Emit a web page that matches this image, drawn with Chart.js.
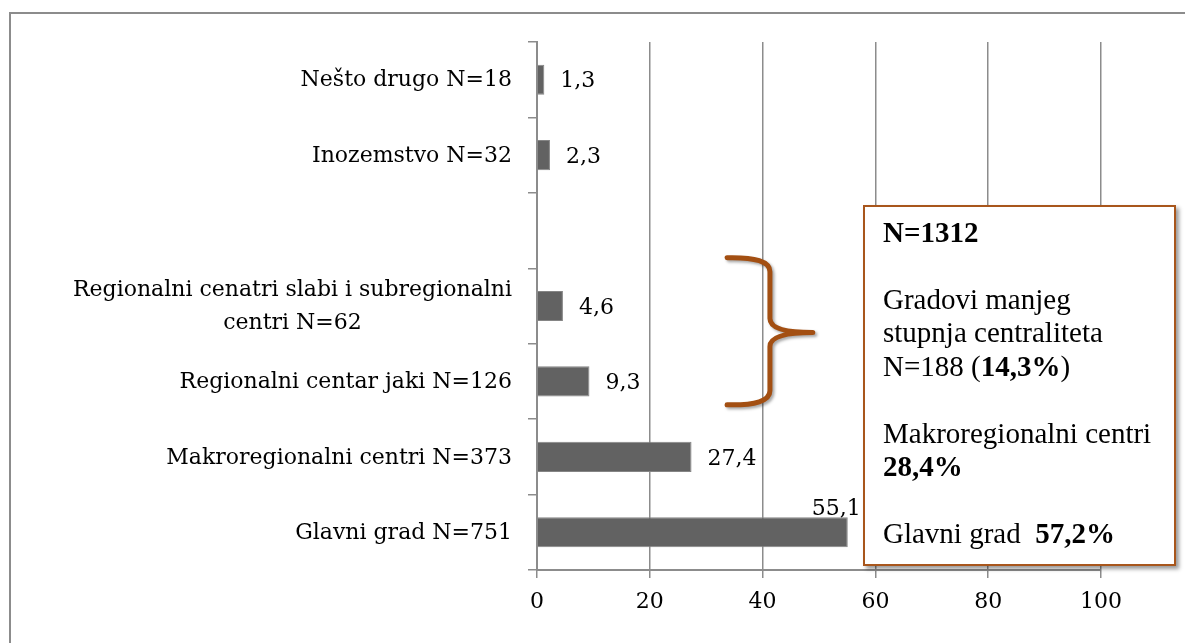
<!DOCTYPE html>
<html><head><meta charset="utf-8">
<script src="https://cdn.jsdelivr.net/npm/chart.js@4"></script>
<style>
html,body{margin:0;padding:0;background:#fff;}
#wrap{position:relative;width:1185px;height:643px;overflow:hidden;background:#fff;}
#frame{position:absolute;left:9px;top:12px;width:3000px;height:3000px;border-top:2px solid #8c8c8c;border-left:2px solid #8c8c8c;}
#c{position:absolute;left:0;top:0;}
#note{position:absolute;left:863px;top:205px;width:313px;height:361px;box-sizing:border-box;
  border:2px solid #a8561c;background:#fff;box-shadow:3px 3px 4px rgba(0,0,0,0.4);
  font-family:"Liberation Serif","Times New Roman",serif;font-size:29px;line-height:33.5px;color:#000;
  padding:8.5px 0 0 18px;white-space:pre;}
#note b{font-weight:bold;}
</style></head>
<body>
<div id="wrap">
<div id="frame"></div>
<canvas id="c" width="1185" height="643"></canvas>
<div id="note"><b>N=1312</b>

Gradovi manjeg
stupnja centraliteta
N=188 (<b>14,3%</b>)

Makroregionalni centri
<b>28,4%</b>

Glavni grad  <b>57,2%</b></div>
</div>
<script>
const categories = [
  'Nešto drugo N=18',
  'Inozemstvo N=32',
  '',
  ['Regionalni cenatri slabi i subregionalni', 'centri N=62'],
  'Regionalni centar jaki N=126',
  'Makroregionalni centri N=373',
  'Glavni grad N=751'
];
const values = [1.3, 2.3, null, 4.6, 9.3, 27.4, 55.1];
const xTickValues = [0, 20, 40, 60, 80, 100];

const FONT = '"DejaVu Serif", serif';
const FS = 22;
const GRID = '#8c8c8c';

const catLabelPlugin = {
  id: 'catLabels',
  afterDraw(chart) {
    const ctx = chart.ctx, ys = chart.scales.y;
    const right = chart.chartArea.left - 25;
    ctx.save();
    ctx.font = FS + 'px ' + FONT;
    ctx.fillStyle = '#000';
    ctx.textAlign = 'center';
    ctx.textBaseline = 'middle';
    categories.forEach((c, i) => {
      const lines = Array.isArray(c) ? c : [c];
      const maxW = Math.max(...lines.map(l => ctx.measureText(l).width));
      const cx = right - maxW / 2;
      const y0 = ys.getPixelForValue(i) + 1;
      const lh = 33;
      lines.forEach((l, k) => {
        ctx.fillText(l, cx, y0 + (k - (lines.length - 1) / 2) * lh);
      });
    });
    ctx.restore();
  }
};

const valueLabelPlugin = {
  id: 'valLabels',
  afterDatasetsDraw(chart) {
    const ctx = chart.ctx, meta = chart.getDatasetMeta(0);
    const noteLeft = document.getElementById('note').offsetLeft;
    ctx.save();
    ctx.font = FS + 'px ' + FONT;
    ctx.fillStyle = '#000';
    meta.data.forEach((bar, i) => {
      const v = values[i];
      if (v === null || v === undefined) return;
      const t = v.toFixed(1).replace('.', ',');
      const w = ctx.measureText(t).width;
      const x = bar.x + 16;
      if (x + w > noteLeft) {
        ctx.textAlign = 'right';
        ctx.textBaseline = 'bottom';
        ctx.fillText(t, bar.x + 13, bar.y - bar.height / 2 + 3);
      } else {
        ctx.textAlign = 'left';
        ctx.textBaseline = 'middle';
        ctx.fillText(t, x, bar.y + 2);
      }
    });
    ctx.restore();
  }
};

const bracePlugin = {
  id: 'brace',
  afterDraw(chart) {
    const ctx = chart.ctx, xs = chart.scales.x, ys = chart.scales.y;
    const xEnd = xs.getPixelForValue(33.7), xMid = xs.getPixelForValue(41.3), xTip = xs.getPixelForValue(48.9);
    const yTop = ys.getPixelForValue(2.36), yTip = ys.getPixelForValue(3.35), yBot = ys.getPixelForValue(4.31);
    const r = 14;
    ctx.save();
    ctx.strokeStyle = '#a34f12';
    ctx.lineWidth = 5;
    ctx.lineCap = 'round';
    ctx.lineJoin = 'round';
    ctx.shadowColor = 'rgba(0,0,0,0.35)';
    ctx.shadowBlur = 3;
    ctx.shadowOffsetX = 2;
    ctx.shadowOffsetY = 2;
    ctx.beginPath();
    ctx.moveTo(xEnd, yTop);
    ctx.quadraticCurveTo(xMid, yTop - 1, xMid, yTop + r);
    ctx.lineTo(xMid, yTip - r);
    ctx.quadraticCurveTo(xMid, yTip, xTip, yTip);
    ctx.moveTo(xTip, yTip);
    ctx.quadraticCurveTo(xMid, yTip, xMid, yTip + r);
    ctx.lineTo(xMid, yBot - r);
    ctx.quadraticCurveTo(xMid, yBot + 1, xEnd, yBot);
    ctx.stroke();
    ctx.restore();
  }
};

new Chart(document.getElementById('c'), {
  type: 'bar',
  data: {
    labels: categories,
    datasets: [{
      data: values,
      backgroundColor: '#626262',
      borderColor: '#858585',
      borderWidth: 1,
      barPercentage: 0.4,
      categoryPercentage: 1.0
    }]
  },
  options: {
    indexAxis: 'y',
    responsive: false,
    animation: false,
    layout: { padding: { top: 42, right: 84, left: 0, bottom: 0 } },
    plugins: { legend: { display: false }, tooltip: { enabled: false } },
    scales: {
      x: {
        min: xTickValues[0],
        max: xTickValues[xTickValues.length - 1],
        afterBuildTicks: s => { s.ticks = xTickValues.map(v => ({ value: v })); },
        afterFit: s => { s.height = 73; },
        ticks: { font: { family: FONT, size: FS }, color: '#000', padding: 11 },
        grid: { color: GRID, lineWidth: 1.5, tickLength: 8, drawTicks: true },
        border: { display: true, color: GRID, width: 2 }
      },
      y: {
        afterFit: s => { s.width = 537; },
        ticks: { display: false },
        grid: { drawOnChartArea: false, drawTicks: true, tickLength: 9, color: GRID, lineWidth: 1.5, offset: true },
        border: { display: true, color: GRID, width: 2 }
      }
    }
  },
  plugins: [catLabelPlugin, valueLabelPlugin, bracePlugin]
});
</script>
</body></html>
